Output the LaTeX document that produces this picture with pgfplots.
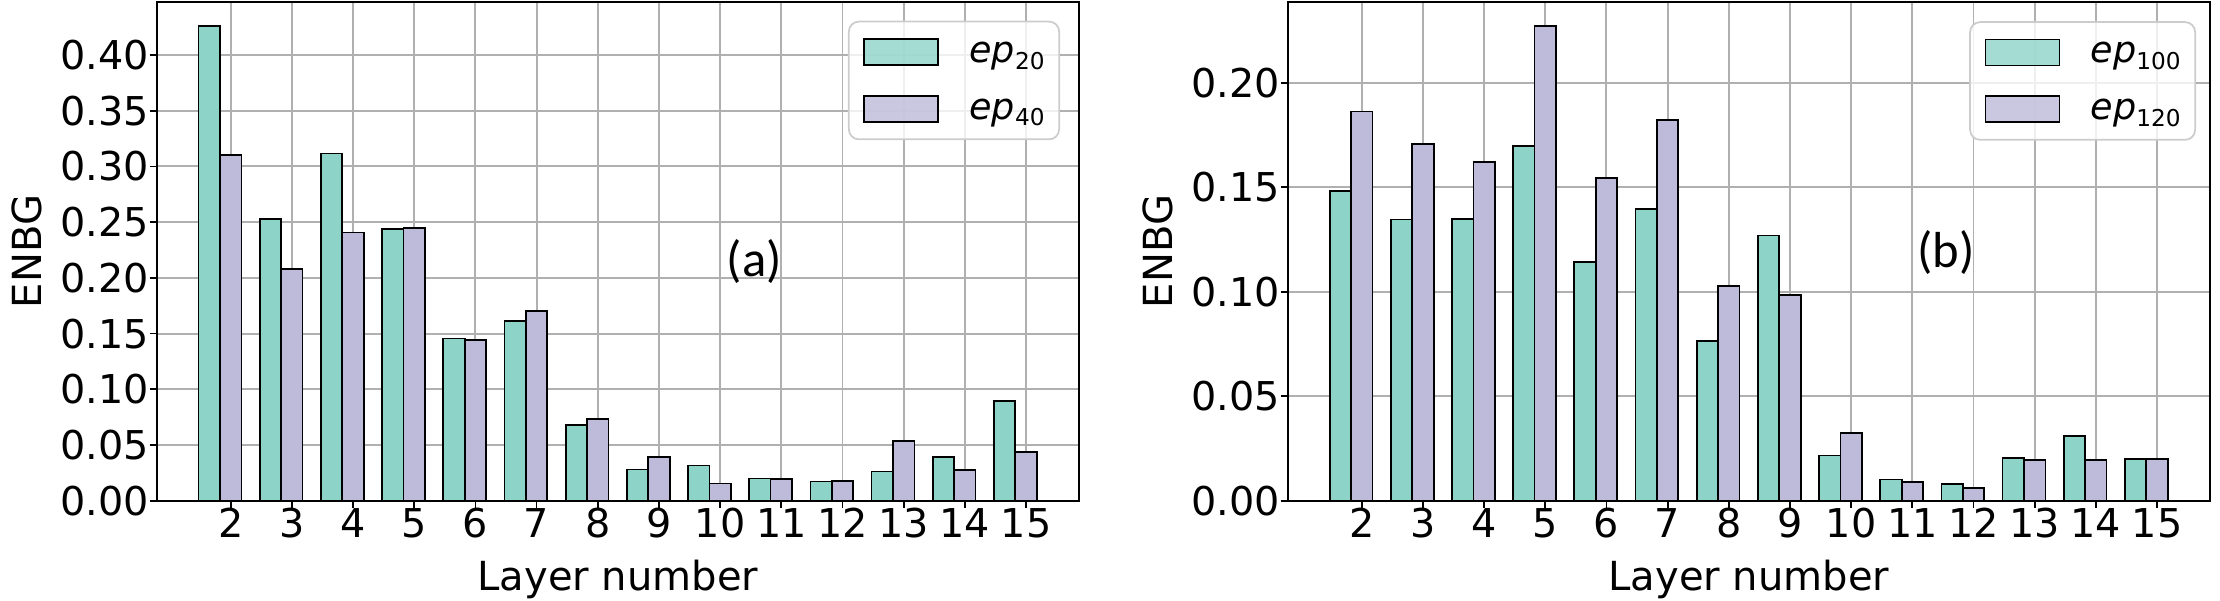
\documentclass[border=0pt]{standalone}
\usepackage{pgfplots}
\pgfplotsset{compat=1.18}
\usepackage{fontspec}
\setmainfont{DejaVu Sans}
\newfontfamily\carlito{Carlito}
\definecolor{cg}{HTML}{8DD3C7}
\definecolor{cp}{HTML}{BEBADA}
\definecolor{gridc}{HTML}{B0B0B0}

\pgfplotsset{
  barleg/.style={legend image code/.code={\draw[##1, sharp corners, line width=0.5pt] (0mm,-1.3mm) rectangle (7.4mm,1.3mm);}},
  enbg/.style={
    scale only axis, width=92.23mm, height=49.84mm, anchor=south west,
    xmin=0.79, xmax=15.866, ymin=0,
    xtick={2,...,15},
    grid=major, major grid style={color=gridc, line width=0.55pt},
    axis line style={line width=0.5pt},
    tick align=outside, xtick pos=left, ytick pos=left,
    major tick length=0.7mm, every tick/.style={black, line width=0.5pt},
    scaled y ticks=false,
    /pgf/number format/assume math mode=true,
    yticklabel style={/pgf/number format/fixed, /pgf/number format/fixed zerofill, /pgf/number format/precision=2, anchor=east},
    ticklabel style={font=\fontsize{11.3}{13}\selectfont, inner sep=0pt},
    xticklabel style={anchor=north},
    label style={font=\fontsize{11.4}{13}\selectfont, inner sep=0pt},
    xlabel={Layer number}, ylabel={ENBG},
    xlabel style={at={(axis description cs:0.5,-0.117)}, anchor=north},
    ylabel style={at={(axis description cs:-0.1406,0.5)}, anchor=center},
    ybar, bar width=0.35,
    legend style={anchor=north east, draw=black!20, line width=0.5pt,
      rounded corners=1mm, fill=white, fill opacity=0.8, text opacity=1, draw opacity=1,
      inner xsep=1.45mm, inner ysep=1.66mm, row sep=2.9mm, column sep=3.03mm,
      font=\fontsize{10.4}{12}\selectfont,
      nodes={inner sep=0pt, text depth=0pt}},
    legend cell align=left,
  },
  gbar/.style={fill=cg, draw=black, line width=0.5pt, bar shift=-0.35, barleg},
  pbar/.style={fill=cp, draw=black, line width=0.5pt, bar shift=0, barleg},
}
\newcommand{\ep}[1]{\textit{ep}\raisebox{-0.67mm}{\fontsize{6.6}{7}\selectfont #1}}

\begin{document}
\begin{tikzpicture}
\path[use as bounding box] (0,0) rectangle (222mm,60mm);

\begin{axis}[enbg, at={(15.67mm,9.93mm)}, ymax=0.4473,
  ytick={0,0.05,...,0.41},
  legend style={at={(rel axis cs:0.9794,0.963)}}]
\addplot[gbar] coordinates {(2,0.426) (3,0.253) (4,0.3115) (5,0.2436) (6,0.1455) (7,0.1616) (8,0.0679) (9,0.028) (10,0.0315) (11,0.0199) (12,0.0173) (13,0.0262) (14,0.0394) (15,0.0894)};
\addlegendentry{\ep{20}}
\addplot[pbar] coordinates {(2,0.310) (3,0.208) (4,0.2406) (5,0.2445) (6,0.1443) (7,0.1702) (8,0.0732) (9,0.0393) (10,0.0155) (11,0.0196) (12,0.0179) (13,0.0539) (14,0.0274) (15,0.0439)};
\addlegendentry{\ep{40}}
\node[font=\carlito\fontsize{14.4}{16}\selectfont, inner sep=0pt] at (axis cs:10.56,0.215) {(a)};
\end{axis}

\begin{axis}[enbg, at={(128.77mm,9.93mm)}, ymax=0.2385,
  ytick={0,0.05,...,0.21},
  legend style={at={(rel axis cs:0.9848,0.962)}}]
\addplot[gbar] coordinates {(2,0.1481) (3,0.1346) (4,0.1349) (5,0.1698) (6,0.1143) (7,0.1397) (8,0.0766) (9,0.1269) (10,0.0216) (11,0.0102) (12,0.008) (13,0.0205) (14,0.0309) (15,0.0199)};
\addlegendentry{\ep{100}}
\addplot[pbar] coordinates {(2,0.1863) (3,0.1707) (4,0.162) (5,0.2271) (6,0.1543) (7,0.1821) (8,0.1029) (9,0.0985) (10,0.0325) (11,0.0091) (12,0.006) (13,0.0194) (14,0.0194) (15,0.0199)};
\addlegendentry{\ep{120}}
\node[font=\carlito\fontsize{14.4}{16}\selectfont, inner sep=0pt] at (axis cs:11.55,0.119) {(b)};
\end{axis}
\end{tikzpicture}
\end{document}
